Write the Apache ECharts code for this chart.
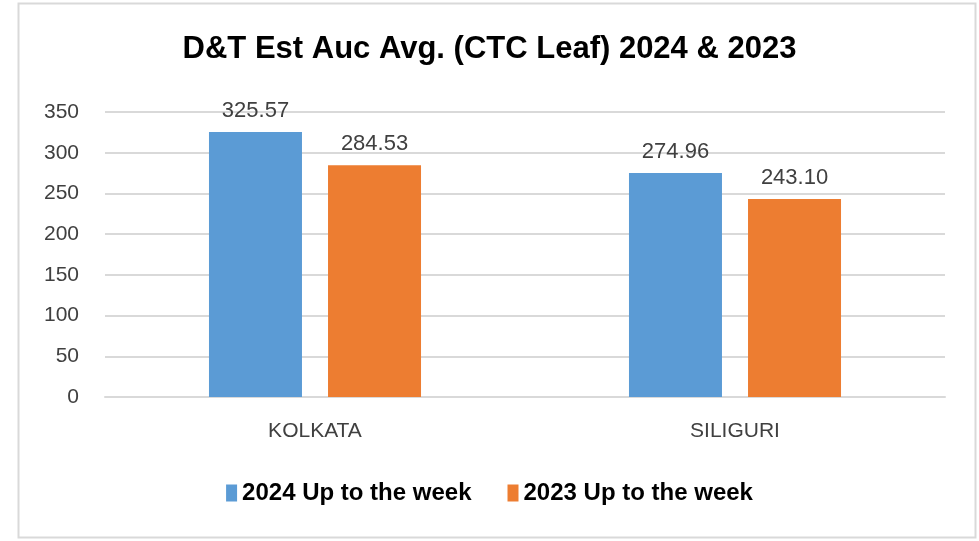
<!DOCTYPE html>
<html><head><meta charset="utf-8">
<script src="https://cdn.jsdelivr.net/npm/echarts@6/dist/echarts.min.js"></script>
<style>html,body{margin:0;padding:0;background:#fff;}#c{width:979px;height:541px;}</style>
</head><body><div id="c"></div>
<script>
const categories = ['KOLKATA', 'SILIGURI'];
const series2024 = [325.57, 274.96];
const series2023 = [284.53, 243.10];
const seriesNames = ['2024 Up to the week', '2023 Up to the week'];
const font = '"Liberation Sans", Arial, sans-serif';
const chart = echarts.init(document.getElementById('c'));
chart.setOption({
  animation: false,
  backgroundColor: '#fff',
  graphic: [{type:'rect', shape:{x:18.5,y:3.5,width:957,height:534}, style:{fill:'none', stroke:'#d9d9d9', lineWidth:2}}],
  title: {text:'D&T Est Auc Avg. (CTC Leaf) 2024 & 2023', left:'center', top:29,
    textStyle:{fontFamily:font, fontWeight:'bold', fontSize:31, color:'#000'}},
  legend: {bottom:31, left:'center', itemWidth:11, itemHeight:17, itemGap:36, icon:'rect',
    textStyle:{fontFamily:font, fontWeight:'bold', fontSize:24, color:'#000'}},
  grid: {left:105, right:34, top:112, bottom:144},
  xAxis: {type:'category', data:categories,
    axisLine:{lineStyle:{color:'#d9d9d9', width:2}}, axisTick:{show:false},
    axisLabel:{fontFamily:font, fontSize:21, color:'#404040', margin:24}},
  yAxis: {type:'value', min:0, max:350, interval:50,
    axisLine:{show:false}, axisTick:{show:false},
    splitLine:{lineStyle:{color:'#d9d9d9', width:2}},
    axisLabel:{fontFamily:font, fontSize:21, color:'#404040', margin:26}},
  series: [
    {name:seriesNames[0], type:'bar', data:series2024, barWidth:93, barGap:'28%',
     itemStyle:{color:'#5B9BD5'},
     label:{show:true, position:'top', distance:10, fontFamily:font, fontSize:22, color:'#404040', formatter:p=>p.value.toFixed(2)}},
    {name:seriesNames[1], type:'bar', data:series2023, barWidth:93,
     itemStyle:{color:'#ED7D31'},
     label:{show:true, position:'top', distance:10, fontFamily:font, fontSize:22, color:'#404040', formatter:p=>p.value.toFixed(2)}}
  ]
});
</script></body></html>
